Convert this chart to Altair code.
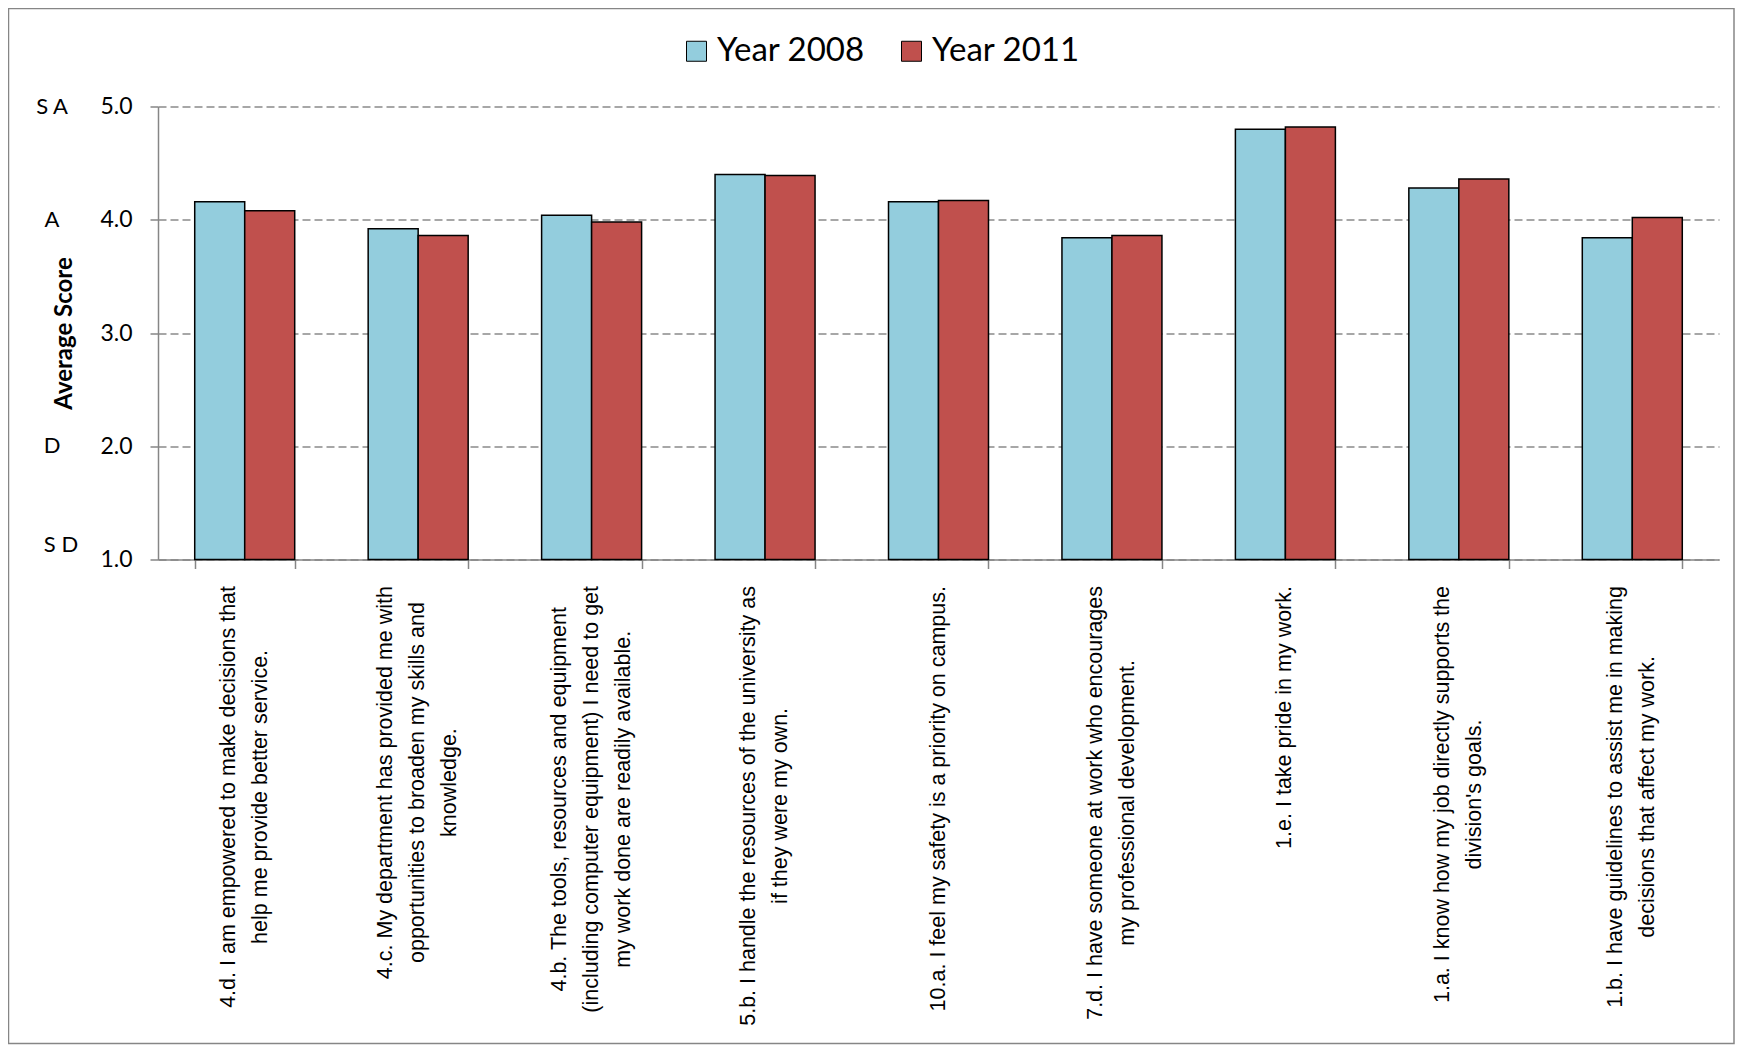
import altair as alt
import pandas as pd

# ---------------- data ----------------
categories = [
    "4.d. I am empowered to make decisions that\nhelp me provide better service.",
    "4.c. My department has provided me with\nopportunities to broaden my skills and\nknowledge.",
    "4.b. The tools, resources and equipment\n(including computer equipment) I need to get\nmy work done are readily available.",
    "5.b. I handle the resources of the university as\nif they were my own.",
    "10.a. I feel my safety is a priority on campus.",
    "7.d. I have someone at work who encourages\nmy professional development.",
    "1.e. I take pride in my work.",
    "1.a. I know how my job directly supports the\ndivision's goals.",
    "1.b. I have guidelines to assist me in making\ndecisions that affect my work.",
]
years = ["Year 2008", "Year 2011"]
values_2008 = [4.16, 3.92, 4.04, 4.40, 4.16, 3.84, 4.80, 4.28, 3.84]
values_2011 = [4.08, 3.86, 3.98, 4.39, 4.17, 3.86, 4.82, 4.36, 4.02]
y_ticks = [1, 2, 3, 4, 5]
scale_labels = ["S A", "A", "D"]
scale_label_values = [5, 4, 2]
bottom_label = ["S D"]
bottom_label_value = [1]

colors = ["#93CDDD", "#C0504D"]

# ---------------- layout constants ----------------
W, H = 1561, 453
LABEL_FONT = "Liberation Sans, Arial, sans-serif"
LABEL_SIZE = 21.5
LINE_H = 32
LABEL_TOP = 479.5  # px below plot top where label blocks start

ARIAL = {" ": 278, "!": 278, "'": 191, "(": 333, ")": 333, ",": 278, "-": 333, ".": 278,
         "/": 278, ":": 278}
for d in "0123456789":
    ARIAL[d] = 556
ARIAL.update(dict(zip("ABCDEFGHIJKLMNOPQRSTUVWXYZ",
                      [667, 667, 722, 722, 667, 611, 778, 722, 278, 500, 667, 556, 833,
                       722, 778, 667, 778, 722, 667, 611, 722, 667, 944, 667, 667, 611])))
ARIAL.update(dict(zip("abcdefghijklmnopqrstuvwxyz",
                      [556, 556, 500, 556, 556, 278, 556, 556, 222, 222, 500, 222, 833,
                       556, 556, 556, 556, 333, 500, 278, 556, 500, 722, 500, 500, 500])))


def text_width(s):
    return sum(ARIAL.get(c, 556) for c in s) * LABEL_SIZE / 1000.0


rows = []
for c, a, b in zip(categories, values_2008, values_2011):
    rows.append({"cat": c, "year": years[0], "score": a})
    rows.append({"cat": c, "year": years[1], "score": b})
bars_df = pd.DataFrame(rows)

lab_df = pd.DataFrame({
    "cat": categories,
    "half": [max(text_width(l) for l in c.split("\n")) / 2 for c in categories],
    "n": [len(c.split("\n")) for c in categories],
})

x_scale = alt.Scale(paddingInner=0.4235, paddingOuter=0.2117)
gray = "#868686"

bars = alt.Chart(bars_df).mark_bar(stroke="black", strokeWidth=1.5).encode(
    x=alt.X("cat:N", sort=categories, scale=x_scale,
            axis=alt.Axis(labels=False, title=None, tickBand="extent", tickSize=9,
                          tickColor=gray, tickWidth=1.5, domainColor=gray,
                          domainWidth=1.5, grid=False)),
    xOffset=alt.XOffset("year:N", sort=years),
    y=alt.Y("score:Q", scale=alt.Scale(domain=[1, 5], nice=False, zero=False),
            axis=alt.Axis(values=y_ticks, format=".1f", grid=True, gridDash=[8, 4],
                          gridColor="#8a8a8a", gridWidth=1.5, domainColor=gray,
                          domainWidth=1.5, tickColor=gray, tickSize=8, tickWidth=1.5,
                          labelFont="Lato", labelFontSize=23, labelColor="black",
                          labelPadding=18, title="Average Score", titleFont="Lato",
                          titleFontWeight="bold", titleFontSize=24, titleColor="black",
                          titleX=-94, titleY=H / 2, titleAngle=270, titleAlign="center",
                          titleBaseline="middle")),
    y2=alt.datum(1),
    color=alt.Color("year:N", scale=alt.Scale(domain=years, range=colors),
                    legend=alt.Legend(orient="none", legendX=522, legendY=-72,
                                      direction="horizontal", title=None,
                                      symbolType="square", symbolSize=400,
                                      symbolStrokeColor="black", symbolStrokeWidth=1,
                                      symbolOpacity=1, labelFont="Lato",
                                      labelFontSize=33, labelColor="black",
                                      labelOffset=4, columnPadding=30, padding=0,
                                      labelLimit=400)),
)


def label_layer(n):
    return alt.Chart(lab_df).transform_filter(f"datum.n == {n}").transform_calculate(
        ly=f"{LABEL_TOP} + datum.half"
    ).mark_text(angle=270, align="center", baseline="middle", font=LABEL_FONT,
                fontSize=LABEL_SIZE, lineHeight=LINE_H, color="black", lineBreak="\n",
                dy=-(n - 1) * LINE_H / 2).encode(
        x=alt.X("cat:N", sort=categories, scale=x_scale),
        y=alt.Y("ly:Q", scale=None, axis=None),
        text="cat:N",
    )


xlabels = [label_layer(n) for n in sorted(set(lab_df["n"]))]

ydomain = alt.Scale(domain=[1, 5], nice=False, zero=False)
sa = alt.Chart(pd.DataFrame({"t": scale_labels, "v": scale_label_values})).mark_text(
    font="Lato", fontSize=22, color="black", align="center", baseline="middle"
).encode(x=alt.value(-106), y=alt.Y("v:Q", scale=ydomain, axis=None), text="t:N")

sd = alt.Chart(pd.DataFrame({"t": bottom_label, "v": bottom_label_value})).mark_text(
    font="Lato", fontSize=22, color="black", align="center", baseline="middle", dy=-15
).encode(x=alt.value(-97), y=alt.Y("v:Q", scale=ydomain, axis=None), text="t:N")

border = alt.Chart(alt.Data(values=[{"k": 1}])).mark_rect(
    fillOpacity=0, stroke=gray, strokeWidth=1.5
).encode(x=alt.value(-149.5), x2=alt.value(W + 15), y=alt.value(-98), y2=alt.value(H + 484))

chart = alt.layer(bars, *xlabels, sa, sd, border).resolve_scale(y="independent").properties(
    width=W, height=H,
    autosize=alt.AutoSizeParams(type="none"),
    padding={"left": 150, "top": 98.5, "right": 16, "bottom": 485},
).configure_view(strokeWidth=0)

chart.save("out.html", embed_options={"renderer": "svg", "actions": False})
